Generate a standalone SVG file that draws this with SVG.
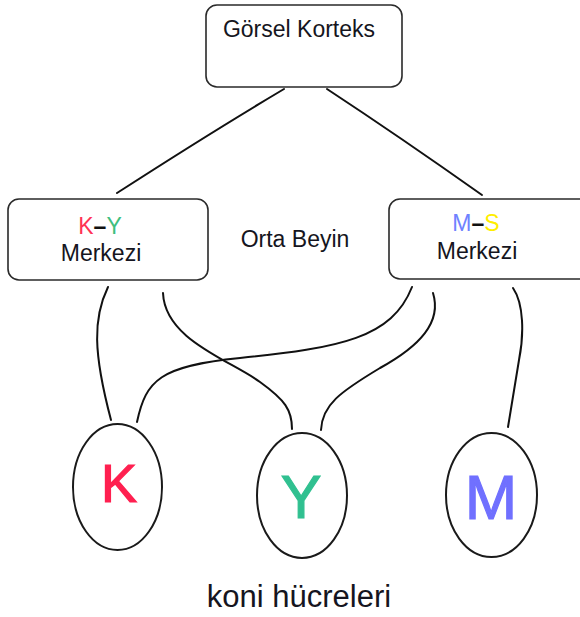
<svg xmlns="http://www.w3.org/2000/svg" width="580" height="617" viewBox="0 0 580 617">
  <style>
    .box { fill: #ffffff; stroke: #2a2a2a; stroke-width: 1.6; }
    .cell { fill: #ffffff; stroke: #1a1a1a; stroke-width: 2; }
    .link { fill: none; stroke: #111111; stroke-width: 2; stroke-linecap: round; }
    .lbl { font-family: "Liberation Sans", Arial, sans-serif; font-size: 23px; fill: #151520; text-anchor: middle; }
    .caption { font-family: "Liberation Sans", Arial, sans-serif; font-size: 31px; fill: #151520; text-anchor: middle; }
    .big { font-family: "Liberation Sans", Arial, sans-serif; text-anchor: middle; stroke-width: 1.2; }
  </style>
  <rect width="580" height="617" fill="#ffffff"/>

  <!-- connectors -->
  <g id="connectors">
    <path class="link" d="M284,89 Q210,133 117,193"/>
    <path class="link" d="M327,89 Q400,137 482,195"/>
    <path class="link" d="M108,287 C93,318 93,352 111,420"/>
    <path class="link" d="M163,293 C165,340 230,360 260,382 C285,400 292,410 292,429"/>
    <path class="link" d="M412,287 C392,338 340,348 240,358 C160,366 146,380 137,422"/>
    <path class="link" d="M433,293 C442,322 420,346 380,368 C340,392 322,405 321,430"/>
    <path class="link" d="M513,288 C524,304 524,335 519,360 L508,427"/>
  </g>

  <!-- visual cortex -->
  <g id="korteks">
    <rect class="box" x="206" y="5" width="196" height="82" rx="11"/>
    <text class="lbl" x="299" y="37">Görsel Korteks</text>
  </g>

  <!-- red-green centre -->
  <g id="ky-merkezi">
    <rect class="box" x="8" y="199" width="200" height="81" rx="11"/>
    <text class="lbl" x="100" y="234"><tspan fill="#ff3355">K</tspan><tspan fill="#111111" font-weight="bold">–</tspan><tspan fill="#3fbf80">Y</tspan></text>
    <text class="lbl" x="101" y="261">Merkezi</text>
  </g>

  <g id="orta-beyin">
    <text class="lbl" x="295" y="247">Orta Beyin</text>
  </g>

  <!-- blue-yellow centre -->
  <g id="ms-merkezi">
    <rect class="box" x="389" y="199" width="205" height="80" rx="11"/>
    <text class="lbl" x="476" y="231"><tspan fill="#6f82ff">M</tspan><tspan fill="#111111" font-weight="bold">–</tspan><tspan fill="#ffee00">S</tspan></text>
    <text class="lbl" x="477" y="259">Merkezi</text>
  </g>

  <!-- cone cells -->
  <g id="koni-k">
    <ellipse class="cell" cx="117.5" cy="487" rx="44.5" ry="63"/>
    <text class="big" x="119" y="502" font-size="54" fill="#ff2050" stroke="#ff2050">K</text>
  </g>
  <g id="koni-y">
    <ellipse class="cell" cx="302" cy="495.5" rx="45" ry="62.5"/>
    <text class="big" x="301" y="518" font-size="61" fill="#30c090" stroke="#30c090">Y</text>
  </g>
  <g id="koni-m">
    <ellipse class="cell" cx="491.5" cy="495" rx="45.5" ry="62"/>
    <text class="big" x="491" y="519" font-size="63" fill="#7070ff" stroke="#7070ff">M</text>
  </g>

  <g id="koni-hucreleri">
    <text class="caption" x="299" y="607">koni hücreleri</text>
  </g>
</svg>
